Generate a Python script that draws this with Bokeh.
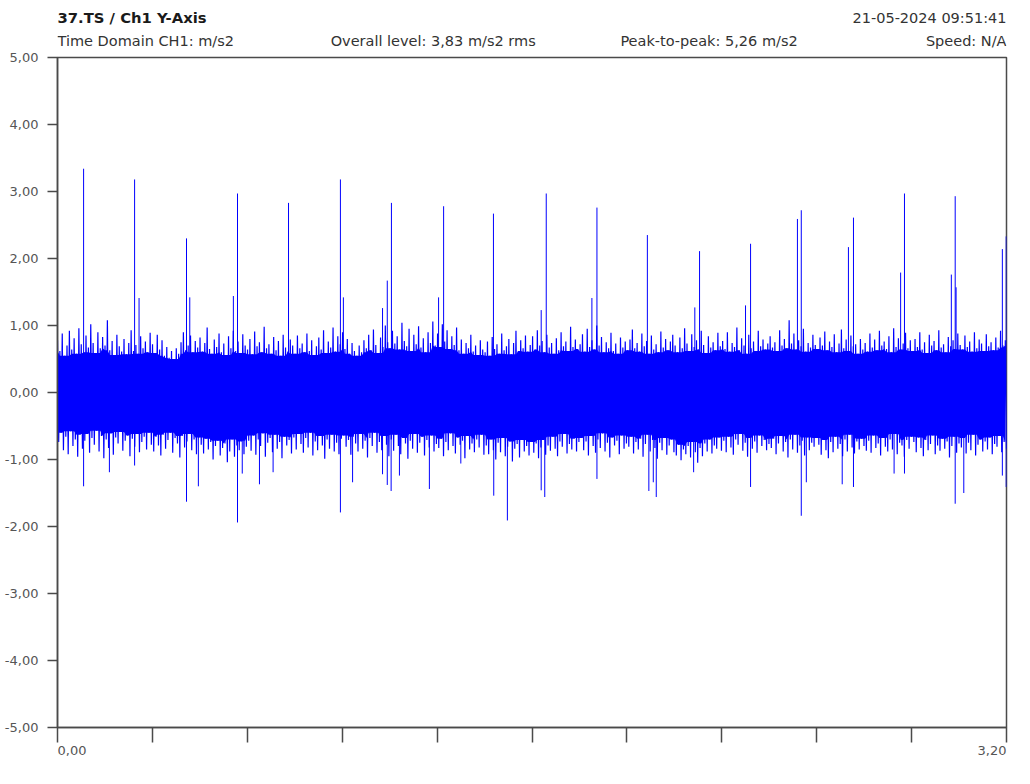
import numpy as np
from bokeh.plotting import figure
from bokeh.layouts import column
from bokeh.models import FixedTicker, CustomJSTickFormatter, Label, Range1d
from bokeh.embed import file_html
from bokeh.resources import INLINE

# ---------------- data ----------------
DURATION = 3.2
y_ticks = [-5, -4, -3, -2, -1, 0, 1, 2, 3, 4, 5]
x_ticks = [0.0, 0.32, 0.64, 0.96, 1.28, 1.60, 1.92, 2.24, 2.56, 2.88, 3.20]
x_label_pos = [0.0, 3.2]
x_label_txt = ["0,00", "3,20"]

title_left = "37.TS / Ch1 Y-Axis"
title_right = "21-05-2024 09:51:41"
sub_texts = ["Time Domain CH1: m/s2", "Overall level: 3,83 m/s2 rms",
             "Peak-to-peak: 5,26 m/s2", "Speed: N/A"]
sub_x = [0.0, 0.921, 1.898, 3.2]

# dense signal: successive positive / negative excursions
sig_hi = [
    0.78, 0.62, 0.88, 0.55, 0.70, 0.92, 0.64, 0.81, 0.58, 0.96, 0.72, 0.60, 0.85, 0.67, 1.02, 0.74, 0.59, 0.90, 0.66, 0.83,
    0.70, 1.08, 0.63, 0.77, 0.56, 0.86, 0.69, 0.61, 0.80, 0.57, 0.74, 0.93, 0.62, 0.71, 0.58, 0.84, 0.66, 0.76, 0.60, 0.89,
    0.72, 0.59, 0.86, 0.64, 0.78, 0.55, 0.68, 0.52, 0.62, 0.50, 0.66, 0.58, 0.75, 0.90, 0.63, 0.70, 0.85, 0.60, 0.77, 0.67,
    0.82, 0.61, 0.74, 0.97, 0.65, 0.58, 0.79, 0.68, 0.88, 0.60, 0.73, 0.56, 0.84, 0.66, 0.92, 0.62, 0.76, 0.59, 0.87, 0.70,
    0.64, 0.80, 0.57, 0.91, 0.69, 0.75, 0.60, 0.98, 0.66, 0.72, 0.58, 0.83, 0.63, 0.77, 0.55, 0.86, 0.67, 0.61, 0.79, 0.70,
    0.58, 0.85, 0.66, 0.73, 0.60, 0.88, 0.62, 0.78, 0.56, 0.69, 0.82, 0.64, 0.93, 0.59, 0.76, 0.67, 0.97, 0.61, 0.84, 0.72,
    0.90, 0.65, 0.80, 0.58, 0.74, 0.62, 0.55, 0.70, 0.60, 0.78, 0.66, 0.86, 0.63, 0.94, 0.71, 0.59, 0.82, 0.68, 1.00, 0.75,
    0.66, 0.92, 0.73, 0.84, 0.64, 1.04, 0.77, 0.69, 0.95, 0.62, 0.86, 0.72, 0.99, 0.67, 0.81, 0.60, 0.90, 0.74, 1.06, 0.70,
    0.88, 0.68, 1.02, 0.76, 0.93, 0.65, 0.84, 0.71, 0.97, 0.63, 0.79, 0.58, 0.74, 0.66, 0.86, 0.61, 0.70, 0.56, 0.78, 0.64,
    0.60, 0.76, 0.55, 0.83, 0.65, 0.72, 0.58, 0.88, 0.63, 0.69, 0.80, 0.57, 0.74, 0.92, 0.62, 0.78, 0.66, 0.85, 0.61, 0.71,
    0.84, 0.64, 0.93, 0.70, 0.77, 0.60, 0.86, 0.67, 0.74, 0.58, 0.81, 0.63, 0.90, 0.69, 0.76, 0.62, 0.98, 0.68, 0.79, 0.65,
    0.72, 0.87, 0.61, 0.95, 0.68, 0.78, 0.64, 1.00, 0.70, 0.83, 0.60, 0.75, 0.66, 0.89, 0.62, 0.73, 0.58, 0.82, 0.67, 0.76,
    0.63, 0.79, 0.94, 0.66, 0.74, 0.61, 0.88, 0.69, 0.77, 0.58, 0.85, 0.64, 0.72, 0.60, 0.91, 0.67, 0.80, 0.63, 0.76, 0.86,
    0.70, 0.60, 0.82, 0.66, 0.96, 0.73, 0.62, 0.87, 0.68, 0.78, 0.64, 0.92, 0.71, 0.59, 0.84, 0.67, 0.75, 0.63, 0.89, 0.69,
    0.77, 0.65, 0.90, 0.61, 0.74, 0.68, 0.97, 0.63, 0.81, 0.70, 0.58, 0.86, 0.66, 0.76, 0.62, 0.92, 0.69, 0.79, 0.64, 0.73,
    0.84, 0.67, 0.75, 0.62, 0.93, 0.70, 0.80, 0.66, 1.08, 0.73, 0.88, 0.64, 0.78, 0.69, 0.95, 0.61, 0.74, 0.67, 0.86, 0.71,
    0.65, 0.82, 0.70, 0.91, 0.63, 0.76, 0.68, 0.87, 0.60, 0.73, 0.94, 0.66, 0.79, 0.62, 0.85, 0.69, 0.72, 0.58, 0.80, 0.64,
    0.74, 0.61, 0.88, 0.67, 0.79, 0.63, 0.92, 0.70, 0.76, 0.65, 0.84, 0.60, 0.96, 0.68, 0.81, 0.64, 0.73, 0.89, 0.66, 0.78,
    0.62, 0.80, 0.68, 0.90, 0.64, 0.75, 0.59, 0.86, 0.70, 0.77, 0.63, 0.93, 0.67, 0.72, 0.60, 0.83, 0.69, 0.78, 0.65, 0.88,
    0.71, 0.64, 0.85, 0.68, 0.76, 0.61, 0.90, 0.66, 0.79, 0.73, 0.62, 0.87, 0.69, 0.75, 0.63, 0.82, 0.67, 0.92, 0.70, 0.78,
]
sig_lo = [
    -0.74, -0.60, -0.86, -0.66, -0.92, -0.58, -0.80, -0.70, -0.96, -0.63, -0.84, -0.72, -0.62, -0.90, -0.68, -0.78, -0.57, -0.88, -0.65, -0.98,
    -0.70, -0.83, -0.61, -0.93, -0.67, -0.76, -0.59, -0.87, -0.72, -0.64, -0.95, -0.69, -0.81, -0.62, -0.89, -0.74, -0.66, -0.85, -0.60, -0.78,
    -0.88, -0.66, -0.79, -0.94, -0.63, -0.84, -0.71, -0.60, -0.90, -0.68, -0.76, -0.97, -0.65, -0.82, -0.73, -0.62, -0.86, -0.70, -0.92, -0.67,
    -0.78, -0.91, -0.69, -0.85, -0.74, -1.00, -0.80, -0.72, -0.94, -0.83, -0.76, -1.04, -0.88, -0.70, -0.96, -0.79, -0.86, -0.73, -0.92, -0.81,
    -0.72, -0.87, -0.64, -0.93, -0.70, -0.80, -0.61, -0.96, -0.75, -0.68, -0.89, -0.63, -0.84, -0.74, -0.98, -0.66, -0.79, -0.71, -0.91, -0.67,
    -0.85, -0.62, -0.77, -0.90, -0.68, -0.82, -0.60, -0.94, -0.73, -0.86, -0.65, -0.79, -0.99, -0.70, -0.84, -0.63, -0.88, -0.75, -0.92, -0.69,
    -0.64, -0.81, -0.71, -0.93, -0.66, -0.76, -0.88, -0.62, -0.84, -0.72, -0.97, -0.68, -0.80, -0.60, -0.90, -0.74, -0.86, -0.65, -0.78, -0.95,
    -0.70, -0.87, -0.63, -0.80, -0.92, -0.68, -0.76, -0.99, -0.72, -0.84, -0.62, -0.90, -0.75, -0.66, -0.94, -0.71, -0.82, -0.64, -0.88, -0.77,
    -0.83, -0.69, -0.95, -0.74, -0.86, -0.61, -0.80, -0.91, -0.67, -0.78, -0.72, -0.98, -0.65, -0.85, -0.76, -0.89, -0.70, -0.82, -0.63, -0.93,
    -0.79, -0.92, -0.70, -0.86, -1.00, -0.75, -0.89, -0.68, -0.95, -0.81, -0.73, -1.03, -0.84, -0.77, -0.97, -0.71, -0.88, -0.80, -0.94, -0.74,
    -0.90, -0.76, -0.98, -0.82, -0.71, -0.93, -0.79, -0.87, -0.66, -0.84, -0.95, -0.73, -0.81, -0.62, -0.91, -0.77, -0.85, -0.69, -0.88, -0.74,
    -0.68, -0.86, -0.73, -0.94, -0.65, -0.80, -0.90, -0.70, -0.83, -0.61, -0.88, -0.75, -0.97, -0.67, -0.79, -0.72, -0.92, -0.64, -0.84, -0.76,
    -0.81, -0.66, -0.91, -0.74, -0.85, -0.69, -0.96, -0.77, -0.63, -0.88, -0.71, -0.83, -0.99, -0.75, -0.86, -0.68, -0.93, -0.79, -0.70, -0.89,
    -0.94, -0.78, -1.01, -0.85, -0.92, -0.80, -0.97, -0.74, -0.89, -1.05, -0.83, -0.95, -0.76, -0.88, -0.70, -0.91, -0.79, -0.84, -0.67, -0.87,
    -0.72, -0.89, -0.66, -0.82, -0.93, -0.70, -0.78, -0.62, -0.87, -0.75, -0.96, -0.68, -0.84, -0.73, -0.90, -0.64, -0.80, -0.71, -0.86, -0.77,
    -0.83, -0.69, -0.92, -0.76, -0.65, -0.88, -0.74, -0.97, -0.70, -0.85, -0.63, -0.90, -0.79, -0.72, -0.94, -0.67, -0.86, -0.75, -0.81, -0.68,
    -0.78, -0.93, -0.71, -0.86, -0.98, -0.74, -0.89, -0.66, -0.84, -0.77, -0.95, -0.70, -0.88, -0.63, -0.82, -0.91, -0.73, -0.85, -0.69, -0.80,
    -0.87, -0.72, -0.90, -0.64, -0.83, -0.76, -0.94, -0.68, -0.81, -0.88, -0.70, -0.85, -0.62, -0.92, -0.75, -0.79, -0.96, -0.71, -0.84, -0.66,
    -0.74, -0.89, -0.67, -0.83, -0.95, -0.71, -0.86, -0.77, -0.64, -0.92, -0.79, -0.87, -0.69, -0.84, -0.73, -0.97, -0.80, -0.66, -0.90, -0.76,
    -0.82, -0.68, -0.91, -0.75, -0.86, -0.63, -0.94, -0.78, -0.70, -0.88, -0.73, -0.85, -0.67, -0.92, -0.77, -0.81, -0.65, -0.89, -0.74, -0.84,
]

# impulses (time s, value m/s2)
spike_up_t = [0.088, 0.260, 0.435, 0.607, 0.779, 0.954, 1.126, 1.302, 1.470, 1.648, 1.819, 1.989,
              2.165, 2.337, 2.495, 2.508, 2.667, 2.684, 2.843, 2.856, 3.014, 3.027, 3.186, 3.199,
              0.275, 0.446, 0.593, 0.964, 1.096, 1.112, 1.285, 1.631, 1.802, 2.149, 2.320, 3.030]
spike_up_v = [3.34, 3.18, 2.30, 2.97, 2.83, 3.18, 2.83, 2.78, 2.67, 2.97, 2.76, 2.35,
              2.11, 2.22, 2.59, 2.72, 2.17, 2.61, 1.79, 2.97, 1.76, 2.93, 2.14, 2.33,
              1.41, 1.42, 1.44, 1.42, 1.26, 1.67, 1.42, 1.23, 1.41, 1.27, 1.30, 1.57]
spike_dn_t = [0.088, 0.175, 0.260, 0.435, 0.475, 0.607, 0.623, 0.681, 0.727, 0.954, 0.995, 1.096,
              1.112, 1.125, 1.153, 1.254, 1.360, 1.471, 1.517, 1.631, 1.643, 1.819, 1.994, 2.009,
              2.019, 2.145, 2.337, 2.508, 2.525, 2.646, 2.684, 2.821, 2.856, 3.027, 3.056, 3.186, 3.199]
spike_dn_v = [-1.40, -1.19, -1.09, -1.63, -1.40, -1.94, -1.21, -1.37, -1.19, -1.79, -1.34, -1.22,
              -1.38, -1.47, -1.24, -1.44, -1.06, -1.54, -1.91, -1.46, -1.56, -1.29, -1.47, -1.34,
              -1.56, -1.19, -1.41, -1.84, -1.34, -1.37, -1.41, -1.21, -1.21, -1.66, -1.50, -1.24, -1.41]

# ---------------- build ----------------
n = len(sig_hi)
t_sig = np.linspace(0.0, DURATION, 2 * n)
hi = np.array(sig_hi)
lo = np.array(sig_lo)
y_sig = np.empty(2 * n)
y_sig[0::2] = hi
y_sig[1::2] = lo

# where neighbouring excursions overlap, the trace reads as solid
K = 2
hi_pad = np.pad(hi, K, mode="edge")
lo_pad = np.pad(lo, K, mode="edge")
solid_hi = np.min([hi_pad[k:k + n] for k in range(2 * K + 1)], axis=0)
solid_lo = np.max([lo_pad[k:k + n] for k in range(2 * K + 1)], axis=0)
solid_t = t_sig[0::2]

BLUE = "#0000FF"
AXIS = "#4a4a4a"
FONT = "DejaVu Sans"
W = 1014
LEFT, RIGHT = 57, 8
HEAD_H, MAIN_H, FOOT_H = 49, 695, 24
HEAD_FS = "14.5px"

# header strip
head = figure(width=W, height=HEAD_H, output_backend="svg", toolbar_location=None,
              x_range=Range1d(0, DURATION), y_range=Range1d(0, HEAD_H),
              x_axis_type=None, y_axis_type=None,
              min_border_left=LEFT, min_border_right=RIGHT, min_border_top=0, min_border_bottom=0)
head.outline_line_color = None
head.grid.visible = False
head.title.visible = False
head.add_layout(Label(x=0, y=HEAD_H - 17, text=title_left, text_align="left",
                      text_baseline="middle", text_font=FONT, text_font_size="14.8px",
                      text_font_style="bold", text_color="#1a1a1a"))
head.add_layout(Label(x=DURATION, y=HEAD_H - 17, text=title_right, text_align="right",
                      text_baseline="middle", text_font=FONT, text_font_size=HEAD_FS,
                      text_color="#333333"))
for xv, txt in zip(sub_x, sub_texts):
    head.add_layout(Label(x=xv, y=HEAD_H - 40, text=txt,
                          text_align="right" if xv == DURATION else "left",
                          text_baseline="middle", text_font=FONT, text_font_size=HEAD_FS,
                          text_color="#333333"))

# main chart
p = figure(width=W, height=MAIN_H, output_backend="svg", toolbar_location=None,
           x_range=Range1d(0, DURATION), y_range=Range1d(-5, 5),
           min_border_left=LEFT, min_border_top=8, min_border_right=RIGHT, min_border_bottom=17)
p.title.visible = False
p.grid.visible = False
p.outline_line_color = AXIS
p.outline_line_width = 1.5

p.varea(x=solid_t, y1=solid_lo, y2=solid_hi, fill_color=BLUE, fill_alpha=1.0)
p.line(t_sig, y_sig, line_color=BLUE, line_width=1.2)
p.segment(x0=spike_up_t, y0=[0] * len(spike_up_t), x1=spike_up_t, y1=spike_up_v,
          line_color=BLUE, line_width=1)
p.segment(x0=spike_dn_t, y0=[0] * len(spike_dn_t), x1=spike_dn_t, y1=spike_dn_v,
          line_color=BLUE, line_width=1)

p.yaxis.ticker = FixedTicker(ticks=y_ticks)
p.yaxis.formatter = CustomJSTickFormatter(code="return tick.toFixed(2).replace('.', ',');")
p.yaxis.major_label_text_font = FONT
p.yaxis.major_label_text_font_size = "13px"
p.yaxis.major_label_text_color = "#555555"
p.yaxis.major_label_standoff = 9
p.yaxis.major_tick_out = 10
p.yaxis.major_tick_in = 0
p.yaxis.minor_tick_line_color = None
p.yaxis.axis_line_color = AXIS
p.yaxis.axis_line_width = 1.5
p.yaxis.major_tick_line_color = AXIS
p.yaxis.major_tick_line_width = 1.5

p.xaxis.ticker = FixedTicker(ticks=x_ticks)
p.xaxis.formatter = CustomJSTickFormatter(code="return '';")
p.xaxis.major_label_text_font_size = "0px"
p.xaxis.major_label_standoff = 0
p.xaxis.major_tick_out = 15
p.xaxis.major_tick_in = 0
p.xaxis.minor_tick_line_color = None
p.xaxis.axis_line_color = AXIS
p.xaxis.axis_line_width = 1.5
p.xaxis.major_tick_line_color = AXIS
p.xaxis.major_tick_line_width = 1.5

# footer strip with the end labels of the time axis
foot = figure(width=W, height=FOOT_H, output_backend="svg", toolbar_location=None,
              x_range=Range1d(0, DURATION), y_range=Range1d(0, FOOT_H),
              x_axis_type=None, y_axis_type=None,
              min_border_left=LEFT, min_border_right=RIGHT, min_border_top=0, min_border_bottom=0)
foot.outline_line_color = None
foot.grid.visible = False
foot.title.visible = False
for xv, txt in zip(x_label_pos, x_label_txt):
    foot.add_layout(Label(x=xv, y=FOOT_H - 1, text=txt, text_align="left" if xv == 0 else "right",
                          text_baseline="top", text_font=FONT, text_font_size="13px",
                          text_color="#555555"))

layout = column(head, p, foot, spacing=0)
open("out.html", "w").write(file_html(layout, INLINE))
